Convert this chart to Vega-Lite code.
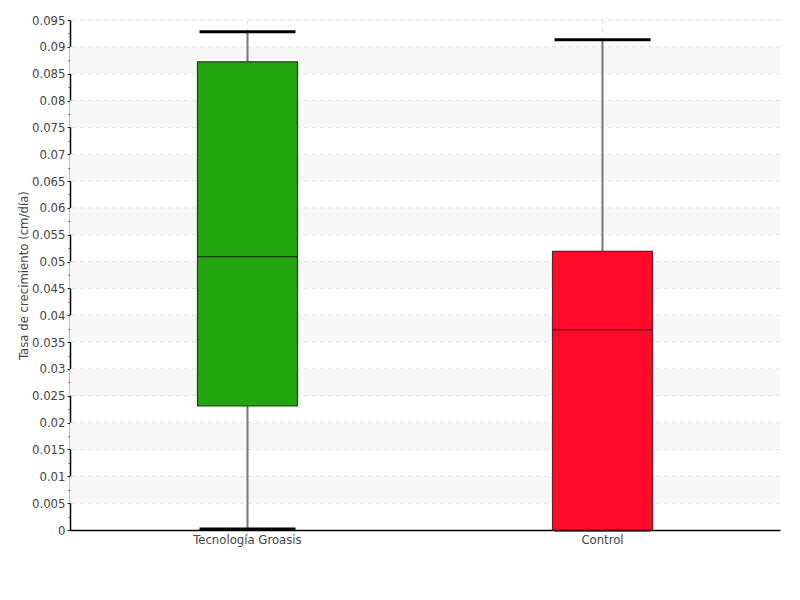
{
  "$schema": "https://vega.github.io/schema/vega-lite/v6.json",
  "width": 710,
  "height": 510,
  "autosize": "none",
  "padding": {"left": 70, "top": 20, "right": 20, "bottom": 70},
  "background": "white",
  "config": {
    "view": {"stroke": null},
    "font": "DejaVu Sans Condensed",
    "axis": {"labelFont": "DejaVu Sans Condensed", "titleFont": "DejaVu Sans Condensed", "labelColor": "#444444", "labelFontSize": 13, "domainColor": "#000000", "domainWidth": 1.5, "grid": false},
    "axisY": {"titleColor": "#444444", "titleFontSize": 13, "titleFontWeight": "normal", "titlePadding": 1, "labelPadding": 2, "labelOverlap": false, "labelBound": false, "labelFlush": false},
    "axisX": {"labelAngle": 0, "ticks": false, "labelPadding": 3}
  },
  "datasets": {
    "boxes": [
      {"grupo": "Tecnología Groasis", "min": 0.0002, "q1": 0.0231, "mediana": 0.0509, "q3": 0.0872, "max": 0.0928},
      {"grupo": "Control", "min": 0.0, "q1": 0.0, "mediana": 0.0373, "q3": 0.0519, "max": 0.0913}
    ],
    "stripes": [
      {"a": 0.005, "b": 0.01},
      {"a": 0.015, "b": 0.02},
      {"a": 0.025, "b": 0.03},
      {"a": 0.035, "b": 0.04},
      {"a": 0.045, "b": 0.05},
      {"a": 0.055, "b": 0.06},
      {"a": 0.065, "b": 0.07},
      {"a": 0.075, "b": 0.08},
      {"a": 0.085, "b": 0.09}
    ],
    "grid": [
      {"v": 0.005}, {"v": 0.01}, {"v": 0.015}, {"v": 0.02}, {"v": 0.025}, {"v": 0.03}, {"v": 0.035}, {"v": 0.04}, {"v": 0.045}, {"v": 0.05},
      {"v": 0.055}, {"v": 0.06}, {"v": 0.065}, {"v": 0.07}, {"v": 0.075}, {"v": 0.08}, {"v": 0.085}, {"v": 0.09}, {"v": 0.095}
    ]
  },
  "layer": [
    {
      "data": {"name": "stripes"},
      "mark": {"type": "rect", "color": "#f7f7f7"},
      "encoding": {
        "y": {
          "field": "a", "type": "quantitative",
          "scale": {"domain": [0, 0.095], "nice": false, "zero": true},
          "axis": {
            "values": [0, 0.0025, 0.005, 0.0075, 0.01, 0.0125, 0.015, 0.0175, 0.02, 0.0225, 0.025, 0.0275, 0.03, 0.0325, 0.035, 0.0375, 0.04, 0.0425, 0.045, 0.0475, 0.05, 0.0525, 0.055, 0.0575, 0.06, 0.0625, 0.065, 0.0675, 0.07, 0.0725, 0.075, 0.0775, 0.08, 0.0825, 0.085, 0.0875, 0.09, 0.0925, 0.095],
            "labelExpr": "round(datum.value * 400) % 2 == 1 ? '' : format(datum.value, '.3~f')",
            "title": "Tasa de crecimiento (cm/día)",
            "tickColor": {"condition": {"test": "round(datum.value * 400) % 2 == 1", "value": "#ff2020"}, "value": "#222222"},
            "tickSize": {"condition": {"test": "round(datum.value * 400) % 2 == 1", "value": 2}, "value": 3}
          }
        },
        "y2": {"field": "b"}
      }
    },
    {
      "data": {"name": "grid"},
      "mark": {"type": "rule", "color": "#e2e2e2", "strokeWidth": 1, "strokeDash": [4, 4]},
      "encoding": {
        "y": {
          "field": "v", "type": "quantitative",
          "axis": {
            "values": [0, 0.0025, 0.005, 0.0075, 0.01, 0.0125, 0.015, 0.0175, 0.02, 0.0225, 0.025, 0.0275, 0.03, 0.0325, 0.035, 0.0375, 0.04, 0.0425, 0.045, 0.0475, 0.05, 0.0525, 0.055, 0.0575, 0.06, 0.0625, 0.065, 0.0675, 0.07, 0.0725, 0.075, 0.0775, 0.08, 0.0825, 0.085, 0.0875, 0.09, 0.0925, 0.095],
            "labelExpr": "round(datum.value * 400) % 2 == 1 ? '' : format(datum.value, '.3~f')",
            "title": "Tasa de crecimiento (cm/día)",
            "tickColor": {"condition": {"test": "round(datum.value * 400) % 2 == 1", "value": "#ff2020"}, "value": "#222222"},
            "tickSize": {"condition": {"test": "round(datum.value * 400) % 2 == 1", "value": 2}, "value": 3}
          }
        }
      }
    },
    {
      "data": {"name": "boxes"},
      "encoding": {
        "x": {
          "field": "grupo", "type": "nominal", "sort": ["Tecnología Groasis", "Control"],
          "scale": {"paddingInner": 0, "paddingOuter": 0},
          "axis": {"title": null}
        }
      },
      "layer": [
        {
          "mark": {"type": "rule", "color": "#e2e2e2", "strokeWidth": 1, "strokeDash": [4, 4]}
        },
        {
          "mark": {"type": "rule", "color": "#777777", "strokeWidth": 2},
          "encoding": {
            "y": {
              "field": "min", "type": "quantitative",
              "axis": {
                "values": [0, 0.0025, 0.005, 0.0075, 0.01, 0.0125, 0.015, 0.0175, 0.02, 0.0225, 0.025, 0.0275, 0.03, 0.0325, 0.035, 0.0375, 0.04, 0.0425, 0.045, 0.0475, 0.05, 0.0525, 0.055, 0.0575, 0.06, 0.0625, 0.065, 0.0675, 0.07, 0.0725, 0.075, 0.0775, 0.08, 0.0825, 0.085, 0.0875, 0.09, 0.0925, 0.095],
                "labelExpr": "round(datum.value * 400) % 2 == 1 ? '' : format(datum.value, '.3~f')",
                "title": "Tasa de crecimiento (cm/día)",
                "tickColor": {"condition": {"test": "round(datum.value * 400) % 2 == 1", "value": "#ff2020"}, "value": "#222222"},
                "tickSize": {"condition": {"test": "round(datum.value * 400) % 2 == 1", "value": 2}, "value": 3}
              }
            },
            "y2": {"field": "max"}
          }
        },
        {
          "mark": {"type": "tick", "color": "#000000", "opacity": 1, "thickness": 3, "size": 96},
          "encoding": {
            "y": {
              "field": "max", "type": "quantitative",
              "axis": {
                "values": [0, 0.0025, 0.005, 0.0075, 0.01, 0.0125, 0.015, 0.0175, 0.02, 0.0225, 0.025, 0.0275, 0.03, 0.0325, 0.035, 0.0375, 0.04, 0.0425, 0.045, 0.0475, 0.05, 0.0525, 0.055, 0.0575, 0.06, 0.0625, 0.065, 0.0675, 0.07, 0.0725, 0.075, 0.0775, 0.08, 0.0825, 0.085, 0.0875, 0.09, 0.0925, 0.095],
                "labelExpr": "round(datum.value * 400) % 2 == 1 ? '' : format(datum.value, '.3~f')",
                "title": "Tasa de crecimiento (cm/día)",
                "tickColor": {"condition": {"test": "round(datum.value * 400) % 2 == 1", "value": "#ff2020"}, "value": "#222222"},
                "tickSize": {"condition": {"test": "round(datum.value * 400) % 2 == 1", "value": 2}, "value": 3}
              }
            }
          }
        },
        {
          "mark": {"type": "tick", "color": "#000000", "opacity": 1, "thickness": 3, "size": 96},
          "encoding": {
            "y": {
              "field": "min", "type": "quantitative",
              "axis": {
                "values": [0, 0.0025, 0.005, 0.0075, 0.01, 0.0125, 0.015, 0.0175, 0.02, 0.0225, 0.025, 0.0275, 0.03, 0.0325, 0.035, 0.0375, 0.04, 0.0425, 0.045, 0.0475, 0.05, 0.0525, 0.055, 0.0575, 0.06, 0.0625, 0.065, 0.0675, 0.07, 0.0725, 0.075, 0.0775, 0.08, 0.0825, 0.085, 0.0875, 0.09, 0.0925, 0.095],
                "labelExpr": "round(datum.value * 400) % 2 == 1 ? '' : format(datum.value, '.3~f')",
                "title": "Tasa de crecimiento (cm/día)",
                "tickColor": {"condition": {"test": "round(datum.value * 400) % 2 == 1", "value": "#ff2020"}, "value": "#222222"},
                "tickSize": {"condition": {"test": "round(datum.value * 400) % 2 == 1", "value": 2}, "value": 3}
              }
            }
          }
        },
        {
          "mark": {"type": "bar", "width": 100, "strokeWidth": 1.2, "opacity": 1},
          "encoding": {
            "y": {
              "field": "q1", "type": "quantitative",
              "axis": {
                "values": [0, 0.0025, 0.005, 0.0075, 0.01, 0.0125, 0.015, 0.0175, 0.02, 0.0225, 0.025, 0.0275, 0.03, 0.0325, 0.035, 0.0375, 0.04, 0.0425, 0.045, 0.0475, 0.05, 0.0525, 0.055, 0.0575, 0.06, 0.0625, 0.065, 0.0675, 0.07, 0.0725, 0.075, 0.0775, 0.08, 0.0825, 0.085, 0.0875, 0.09, 0.0925, 0.095],
                "labelExpr": "round(datum.value * 400) % 2 == 1 ? '' : format(datum.value, '.3~f')",
                "title": "Tasa de crecimiento (cm/día)",
                "tickColor": {"condition": {"test": "round(datum.value * 400) % 2 == 1", "value": "#ff2020"}, "value": "#222222"},
                "tickSize": {"condition": {"test": "round(datum.value * 400) % 2 == 1", "value": 2}, "value": 3}
              }
            },
            "y2": {"field": "q3"},
            "fill": {
              "field": "grupo", "type": "nominal", "legend": null,
              "scale": {"domain": ["Tecnología Groasis", "Control"], "range": ["#22a50f", "#ff0a28"]}
            },
            "stroke": {
              "field": "grupo", "type": "nominal", "legend": null,
              "scale": {"domain": ["Tecnología Groasis", "Control"], "range": ["#1c4012", "#6a1f2a"]}
            }
          }
        },
        {
          "mark": {"type": "tick", "color": "#1a1a1a", "opacity": 1, "thickness": 1.2, "size": 100},
          "encoding": {
            "y": {
              "field": "mediana", "type": "quantitative",
              "axis": {
                "values": [0, 0.0025, 0.005, 0.0075, 0.01, 0.0125, 0.015, 0.0175, 0.02, 0.0225, 0.025, 0.0275, 0.03, 0.0325, 0.035, 0.0375, 0.04, 0.0425, 0.045, 0.0475, 0.05, 0.0525, 0.055, 0.0575, 0.06, 0.0625, 0.065, 0.0675, 0.07, 0.0725, 0.075, 0.0775, 0.08, 0.0825, 0.085, 0.0875, 0.09, 0.0925, 0.095],
                "labelExpr": "round(datum.value * 400) % 2 == 1 ? '' : format(datum.value, '.3~f')",
                "title": "Tasa de crecimiento (cm/día)",
                "tickColor": {"condition": {"test": "round(datum.value * 400) % 2 == 1", "value": "#ff2020"}, "value": "#222222"},
                "tickSize": {"condition": {"test": "round(datum.value * 400) % 2 == 1", "value": 2}, "value": 3}
              }
            }
          }
        }
      ]
    }
  ]
}
